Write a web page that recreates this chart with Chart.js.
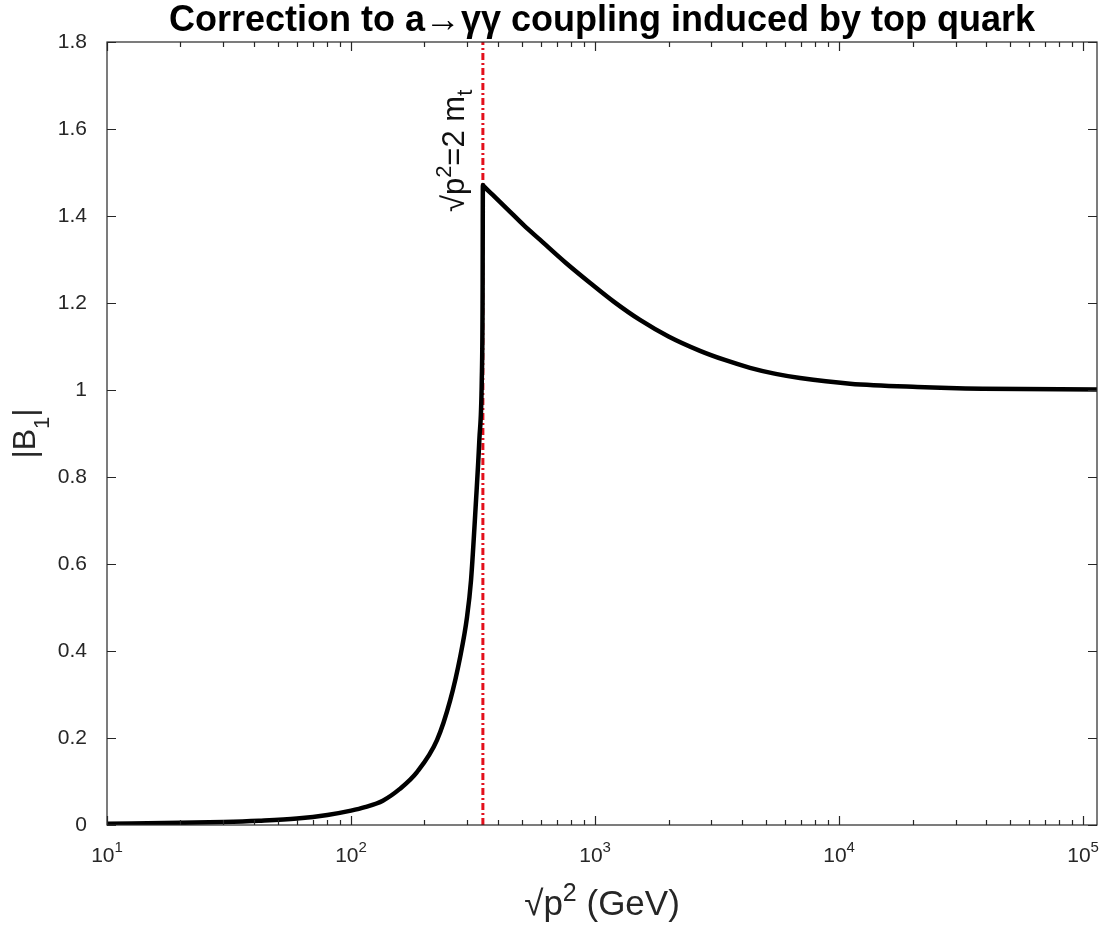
<!DOCTYPE html>
<html>
<head>
<meta charset="utf-8">
<script src="https://cdn.jsdelivr.net/npm/chart.js@4.4.1/dist/chart.umd.min.js"></script>
<style>
  html, body { margin: 0; padding: 0; background: #fff; }
  #wrap { width: 1112px; height: 926px; }
</style>
</head>
<body>
<div id="wrap"><canvas id="myChart"></canvas></div>
<script>
// sqrt(p^2) in GeV and |B1|
const sqrtP2 = [10, 20, 30, 42, 60, 80, 100, 114, 135, 158.5, 186, 225, 255, 280, 298.8, 310.3, 325.3, 335.6,
  343.4, 346, 347, 352, 380, 437, 510, 596, 760, 955, 1200, 1528, 2000, 2692, 3400, 4315, 5500, 6920, 11090,
  20900, 38800, 114000];
const b1 = [0.003, 0.005, 0.007, 0.010, 0.015, 0.023, 0.033, 0.041, 0.056, 0.083, 0.121, 0.195, 0.287, 0.386,
  0.478, 0.563, 0.747, 0.885, 1.023, 1.2, 1.471, 1.467, 1.449, 1.416, 1.379, 1.345, 1.292, 1.246, 1.202,
  1.161, 1.123, 1.090, 1.069, 1.051, 1.037, 1.0275, 1.0145, 1.007, 1.003, 1.001];

// threshold sqrt(p^2) = 2 m_t
const thresholdX = [347, 347];
const thresholdY = [0, 1.8];

// axes
const xDecades = [10, 100, 1000, 10000, 100000];
const xExponents = ['1', '2', '3', '4', '5'];
const xMinorSteps = [2, 3, 4, 5, 6, 7, 8, 9];
const xMin = 10, xMax = 114000;
const yMin = 0, yMax = 1.8, yStep = 0.2;

const titleText = 'Correction to a\u2192\u03B3\u03B3 coupling induced by top quark';
const font = '"Liberation Sans", Arial, Helvetica, sans-serif';
const axisColor = '#262626';

const xTickValues = [];
xDecades.forEach(d => {
  xTickValues.push(d);
  if (d < 100000) xMinorSteps.forEach(s => xTickValues.push(d * s));
});

function isDecade(v) {
  return xDecades.some(d => Math.abs(d - v) < 1e-6 * d);
}

// draws runs of [text, size, shift] left to right from (0,0)
function drawRuns(ctx, runs, align) {
  let total = 0;
  runs.forEach(r => { ctx.font = r[1] + 'px ' + font; total += ctx.measureText(r[0]).width; });
  let cx = align === 'center' ? -total / 2 : 0;
  runs.forEach(r => {
    ctx.font = r[1] + 'px ' + font;
    ctx.fillText(r[0], cx, r[2]);
    cx += ctx.measureText(r[0]).width;
  });
}

const boxPlugin = {
  id: 'matlabBox',
  afterDatasetsDraw(chart) {
    const { ctx, chartArea: a, scales: { x, y } } = chart;
    ctx.save();
    ctx.strokeStyle = axisColor;
    ctx.lineWidth = 1.2;
    ctx.strokeRect(a.left, a.top, a.right - a.left, a.bottom - a.top);
    ctx.beginPath();
    x.ticks.forEach(t => {
      const px = Math.round(x.getPixelForValue(t.value)) + 0.5;
      const len = isDecade(t.value) ? 9 : 5;
      ctx.moveTo(px, a.bottom); ctx.lineTo(px, a.bottom - len);
      ctx.moveTo(px, a.top); ctx.lineTo(px, a.top + len);
    });
    y.ticks.forEach(t => {
      const py = Math.round(y.getPixelForValue(t.value)) + 0.5;
      ctx.moveTo(a.left, py); ctx.lineTo(a.left + 9, py);
      ctx.moveTo(a.right, py); ctx.lineTo(a.right - 9, py);
    });
    ctx.stroke();
    ctx.restore();
  }
};

// texts with super/subscripts: title, axis labels, x tick labels, threshold label
const textPlugin = {
  id: 'texts',
  afterDraw(chart) {
    const { ctx, chartArea: a, scales: { x, y } } = chart;
    const midX = (a.left + a.right) / 2;
    ctx.save();
    ctx.textBaseline = 'alphabetic';
    ctx.textAlign = 'left';

    // title
    ctx.fillStyle = '#000';
    ctx.font = 'bold 36px ' + font;
    ctx.textAlign = 'center';
    ctx.fillText(titleText, midX, 31);
    ctx.textAlign = 'left';

    // x tick labels 10^n
    ctx.fillStyle = axisColor;
    xDecades.forEach((d, i) => {
      const px = x.getPixelForValue(d);
      ctx.save();
      ctx.translate(px, a.bottom + 37);
      drawRuns(ctx, [['10', 21, 0], [xExponents[i], 15, -10]], 'center');
      ctx.restore();
    });

    // x axis title
    ctx.save();
    ctx.translate(midX, 915);
    drawRuns(ctx, [['\u221Ap', 35, 0], ['2', 25, -14], [' (GeV)', 35, 0]], 'center');
    ctx.restore();

    // y axis title
    ctx.save();
    ctx.translate(35, (a.top + a.bottom) / 2);
    ctx.rotate(-Math.PI / 2);
    drawRuns(ctx, [['|B', 32, 0], ['1', 22, 14], ['|', 32, 0]], 'center');
    ctx.restore();

    // threshold label
    const peak = Math.max(...b1);
    ctx.save();
    ctx.translate(x.getPixelForValue(thresholdX[0]) - 19, y.getPixelForValue(peak) + 27);
    ctx.rotate(-Math.PI / 2);
    ctx.fillStyle = '#111';
    drawRuns(ctx, [['\u221Ap', 31, 0], ['2', 22, -13], ['=2 m', 31, 0], ['t', 22, 8]], 'left');
    ctx.restore();

    ctx.restore();
  }
};

const ctx = document.getElementById('myChart');

new Chart(ctx, {
  type: 'line',
  data: {
    datasets: [
      {
        label: '|B1|',
        data: sqrtP2.map((v, i) => ({ x: v, y: b1[i] })),
        borderColor: '#000',
        borderWidth: 4.5,
        pointRadius: 0,
        fill: false,
        cubicInterpolationMode: 'monotone',
        order: 0
      },
      {
        label: '2 m_t',
        data: thresholdX.map((v, i) => ({ x: v, y: thresholdY[i] })),
        borderColor: '#e3101c',
        borderWidth: 3,
        borderDash: [7, 3, 2, 3],
        pointRadius: 0,
        fill: false,
        order: 1
      }
    ]
  },
  options: {
    responsive: true,
    maintainAspectRatio: false,
    animation: false,
    layout: { padding: { top: 42, right: 15, left: 0, bottom: 0 } },
    plugins: {
      legend: { display: false },
      tooltip: { enabled: false },
      title: { display: false }
    },
    scales: {
      x: {
        type: 'logarithmic',
        min: xMin,
        max: xMax,
        afterBuildTicks: scale => {
          scale.ticks = xTickValues.map(v => ({ value: v, major: isDecade(v) }));
        },
        afterFit: scale => { scale.height = 101; },
        grid: { display: false },
        border: { display: false },
        ticks: { display: false, autoSkip: false }
      },
      y: {
        min: yMin,
        max: yMax,
        afterFit: scale => { scale.width = 107; },
        grid: { display: false },
        border: { display: false },
        ticks: {
          stepSize: yStep,
          padding: 12,
          color: axisColor,
          font: { family: font, size: 21 },
          callback: v => String(Number(v.toFixed(1)))
        }
      }
    }
  },
  plugins: [boxPlugin, textPlugin]
});
</script>
</body>
</html>
